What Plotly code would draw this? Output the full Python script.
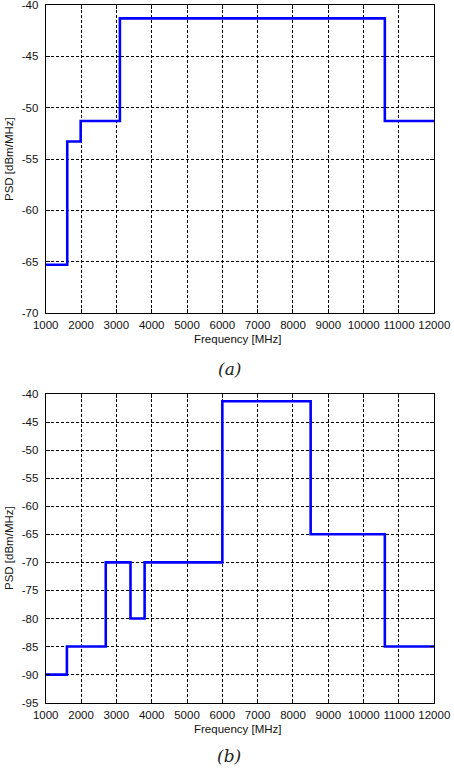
import plotly.graph_objects as go

# Panel (a)
freq_a = [1000, 1610, 1990, 3100, 10600, 12000]
psd_a = [-65.3, -53.3, -51.3, -41.3, -51.3, -51.3]
# Panel (b)
freq_b = [1000, 1600, 2700, 3400, 3800, 6000, 8500, 10600, 12000]
psd_b = [-90, -85, -70, -80, -70, -41.3, -65, -85, -85]

x_ticks = list(range(1000, 12001, 1000))
x_ticktext = [str(v) for v in x_ticks]
y_ticks_a = list(range(-70, -39, 5))
y_ticks_b = list(range(-95, -39, 5))
y_text_a = [str(v) for v in y_ticks_a]
y_text_b = [str(v) for v in y_ticks_b]

W, H = 454, 774
fig = go.Figure()
fig.add_trace(go.Scatter(x=freq_a, y=psd_a, mode="lines", line=dict(color="#0000ff", width=2.6, shape="hv"),
                         xaxis="x", yaxis="y", showlegend=False))
fig.add_trace(go.Scatter(x=freq_b, y=psd_b, mode="lines", line=dict(color="#0000ff", width=2.6, shape="hv"),
                         xaxis="x2", yaxis="y2", showlegend=False))

font = dict(family="Liberation Sans, Arial, sans-serif", size=11.5, color="#111")
xd = [45.7 / W, 434.3 / W]

def axcommon():
    return dict(showline=True, linecolor="black", linewidth=1, mirror="allticks",
                ticks="inside", ticklen=4, tickcolor="black", automargin=False,
                ticklabeloverflow="allow",
                showgrid=True, gridcolor="black", gridwidth=1, griddash="3px,2px",
                zeroline=False, tickfont=font)

fig.update_layout(
    width=W, height=H, margin=dict(l=0, r=0, t=0, b=0),
    paper_bgcolor="white", plot_bgcolor="white",
    xaxis=dict(domain=xd, range=[1000, 12000], tickvals=x_ticks, ticktext=x_ticktext, anchor="y", ticklabelstandoff=1, **axcommon()),
    yaxis=dict(domain=[1 - 313 / H, 1 - 5 / H], range=[-70, -40], tickvals=y_ticks_a, ticktext=y_text_a, anchor="x", ticklabelstandoff=4, **axcommon()),
    xaxis2=dict(domain=xd, range=[1000, 12000], tickvals=x_ticks, ticktext=x_ticktext, anchor="y2", ticklabelstandoff=1, **axcommon()),
    yaxis2=dict(domain=[1 - 702.7 / H, 1 - 394 / H], range=[-95, -40], tickvals=y_ticks_b, ticktext=y_text_b, anchor="x2", ticklabelstandoff=4, **axcommon()),
)

def ann(text, x, y, angle=0, f=None):
    fig.add_annotation(text=text, x=x / W, y=1 - y / H, xref="paper", yref="paper",
                       showarrow=False, textangle=angle, font=f or font, xanchor="center", yanchor="middle")

ann("Frequency [MHz]", 238, 339)
ann("PSD [dBm/MHz]", 9, 159, angle=-90)
ann("Frequency [MHz]", 238, 729)
ann("PSD [dBm/MHz]", 9, 548, angle=-90)
serif = dict(family="DejaVu Serif, Liberation Serif, serif", size=17, color="#222")
ann("<i>(a)</i>", 229, 369, f=serif)
ann("<i>(b)</i>", 229, 756, f=serif)

fig.write_html("out.html")
